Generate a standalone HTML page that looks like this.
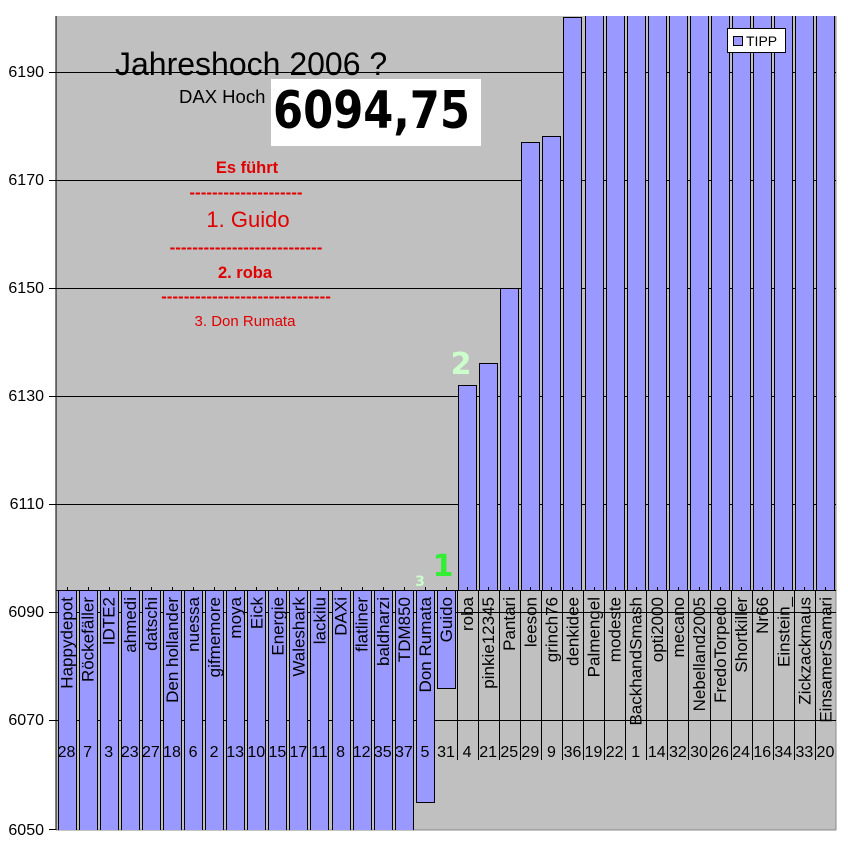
<!DOCTYPE html>
<html><head><meta charset="utf-8"><style>body{margin:0;background:#fff}svg{display:block}</style></head><body>
<svg width="848" height="855" xmlns="http://www.w3.org/2000/svg" font-family="Liberation Sans, Arial, sans-serif">
<defs><clipPath id="pc"><rect x="56" y="16" width="780" height="814"/></clipPath></defs>
<rect x="56" y="16" width="780" height="814" fill="#c0c0c0"/>
<line x1="836" y1="16" x2="836" y2="830" stroke="#888" stroke-width="1"/>
<line x1="56" y1="830" x2="836" y2="830" stroke="#888" stroke-width="1"/>
<g stroke="#000" stroke-width="1">
<line x1="56" y1="72.5" x2="836" y2="72.5"/>
<line x1="56" y1="180.5" x2="836" y2="180.5"/>
<line x1="56" y1="288.5" x2="836" y2="288.5"/>
<line x1="56" y1="396.5" x2="836" y2="396.5"/>
<line x1="56" y1="504.5" x2="836" y2="504.5"/>
<line x1="56" y1="612.5" x2="836" y2="612.5"/>
<line x1="56" y1="720.5" x2="836" y2="720.5"/>
<line x1="56" y1="590.5" x2="836" y2="590.5"/>
</g>
<g id="bars" clip-path="url(#pc)"></g>
<text x="115" y="75" font-size="32">Jahreshoch 2006 ?</text>
<text x="179" y="103" font-size="18.5">DAX Hoch</text>
<rect x="271" y="79" width="210" height="67" fill="#fff"/>
<text x="273" y="128" font-size="52" font-weight="bold" font-family="DejaVu Sans, Verdana, sans-serif" textLength="197" lengthAdjust="spacingAndGlyphs">6094,75</text>
<g fill="#e00000" text-anchor="middle">
<text x="247" y="173" font-size="16.5" font-weight="bold">Es führt</text>
<text x="246" y="198" font-size="17" font-weight="bold">--------------------</text>
<text x="248" y="227" font-size="22">1. Guido</text>
<text x="246" y="253" font-size="17" font-weight="bold">---------------------------</text>
<text x="245" y="278" font-size="16.5" font-weight="bold">2. roba</text>
<text x="246" y="302" font-size="17" font-weight="bold">------------------------------</text>
<text x="245" y="326" font-size="15">3. Don Rumata</text>
</g>
<text x="461" y="374" font-size="30" font-weight="bold" fill="#ccffcc" text-anchor="middle" font-family="DejaVu Sans, sans-serif">2</text>
<text x="443" y="576" font-size="30" font-weight="bold" fill="#33ee33" text-anchor="middle" font-family="DejaVu Sans, sans-serif">1</text>
<text x="420" y="586" font-size="14" font-weight="bold" fill="#ccffcc" text-anchor="middle" font-family="DejaVu Sans, sans-serif">3</text>
<rect x="727.5" y="28.5" width="58" height="24" fill="#fff" stroke="#000"/>
<rect x="733.5" y="36.5" width="9" height="9" fill="#9999ff" stroke="#000"/>
<text x="746" y="46" font-size="14">TIPP</text>
<line x1="56" y1="16" x2="56" y2="830" stroke="#000"/>
<g font-size="16" fill="#000" text-anchor="end">
<text x="44" y="77">6190</text><text x="44" y="185">6170</text><text x="44" y="293">6150</text><text x="44" y="401">6130</text><text x="44" y="509">6110</text><text x="44" y="617">6090</text><text x="44" y="725">6070</text><text x="44" y="835">6050</text>
</g>
<g stroke="#000"><line x1="49" y1="72.5" x2="56" y2="72.5"/><line x1="49" y1="180.5" x2="56" y2="180.5"/><line x1="49" y1="288.5" x2="56" y2="288.5"/><line x1="49" y1="396.5" x2="56" y2="396.5"/><line x1="49" y1="504.5" x2="56" y2="504.5"/><line x1="49" y1="612.5" x2="56" y2="612.5"/><line x1="49" y1="720.5" x2="56" y2="720.5"/><line x1="49" y1="829.5" x2="56" y2="829.5"/></g>
<g id="labels"></g>
<script>
var names=["Happydepot","Röckefäller","IDTE2","ahmedi","datschi","Den hollander","nuessa","gifmemore","moya","Eick","Energie","Waleshark","lackilu","DAXi","flatliner","baldharzi","TDM850","Don Rumata","Guido","roba","pinkie12345","Pantari","leeson","grinch76","denkidee","Palmengel","modeste","BackhandSmash","opti2000","mecano","Nebelland2005","FredoTorpedo","Shortkiller","Nr66","Einstein_","Zickzackmaus","EinsamerSamari"];
var nums=[28,7,3,23,27,18,6,2,13,10,15,17,11,8,12,35,37,5,31,4,21,25,29,9,36,19,22,1,14,32,30,26,24,16,34,33,20];
var ends={17:802,18:688,19:385,20:363,21:288,22:142,23:136,24:17};
var w=780/37,ns="http://www.w3.org/2000/svg",B=document.getElementById("bars"),L=document.getElementById("labels");
function el(p,t,a,txt){var e=document.createElementNS(ns,t);for(var k in a)e.setAttribute(k,a[k]);if(txt!=null)e.textContent=txt;p.appendChild(e);return e;}
for(var i=19;i<37;i++){var x0=56+i*w;
 el(B,"line",{x1:Math.round(x0)+.5,y1:591,x2:Math.round(x0)+.5,y2:760,stroke:"#000"});
}
for(var i=0;i<37;i++){var x0=56+i*w,bx=Math.round(x0+1.5)+.5,bw=18;
 var y0,y1;
 if(i<19){y0=590.5;y1=(ends[i]||834)+.5;}else{y0=(ends[i]||14)+.5;y1=590.5;}
 el(B,"rect",{x:bx,y:y0,width:bw,height:y1-y0,fill:"#9999ff",stroke:"#000"});
 var cx=x0+w/2;
 el(B,"line",{x1:Math.round(cx)+.5,y1:587,x2:Math.round(cx)+.5,y2:591,stroke:"#000"});
 el(L,"text",{x:0,y:0,"font-size":17,"text-anchor":"end",transform:"translate("+(cx+6)+",597) rotate(-90)"},names[i]);
 el(L,"text",{x:cx,y:757,"font-size":16,"text-anchor":"middle"},nums[i]);
}
</script>
</svg>
</body></html>
